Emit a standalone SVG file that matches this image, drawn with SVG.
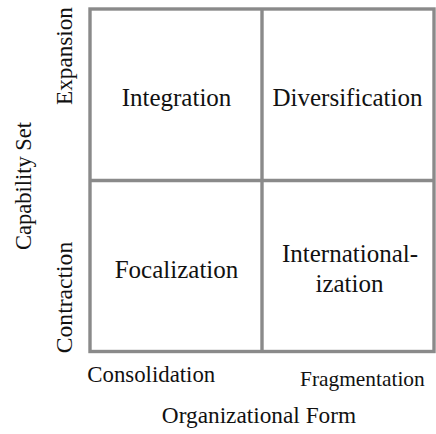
<svg xmlns="http://www.w3.org/2000/svg" width="436" height="434" viewBox="0 0 436 434">
<style>
text{fill:#111;font-family:'Liberation Serif','Times New Roman',serif;}
.cell{font-size:25px;text-anchor:middle;}
.ln{stroke:#8a8a8a;stroke-width:3.4;fill:none;}
</style>
<rect width="436" height="434" fill="#fff"/>
<g id="connectors">
<rect class="ln" x="90" y="9" width="344" height="342.5"/>
<line class="ln" x1="262" y1="9" x2="262" y2="351.5"/>
<line class="ln" x1="90" y1="180.5" x2="434" y2="180.5"/>
</g>
<g id="integration"><text class="cell" x="176.5" y="106">Integration</text></g>
<g id="diversification"><text class="cell" x="347.5" y="106">Diversification</text></g>
<g id="focalization"><text class="cell" x="176.5" y="278">Focalization</text></g>
<g id="internationalization"><text class="cell" x="350" y="262">International-</text><text class="cell" x="349.5" y="292">ization</text></g>
<g id="axis-x">
<text x="87.3" y="382" font-size="22.8">Consolidation</text>
<text x="300" y="386" font-size="21.4">Fragmentation</text>
<text x="259" y="423" font-size="23.3" text-anchor="middle">Organizational Form</text>
</g>
<g id="axis-y">
<text transform="translate(31,186) rotate(-90)" text-anchor="middle" font-size="22.5">Capability Set</text>
<text transform="translate(71.5,56) rotate(-90)" text-anchor="middle" font-size="23.2">Expansion</text>
<text transform="translate(72,297.5) rotate(-90)" text-anchor="middle" font-size="23.6">Contraction</text>
</g>
</svg>
